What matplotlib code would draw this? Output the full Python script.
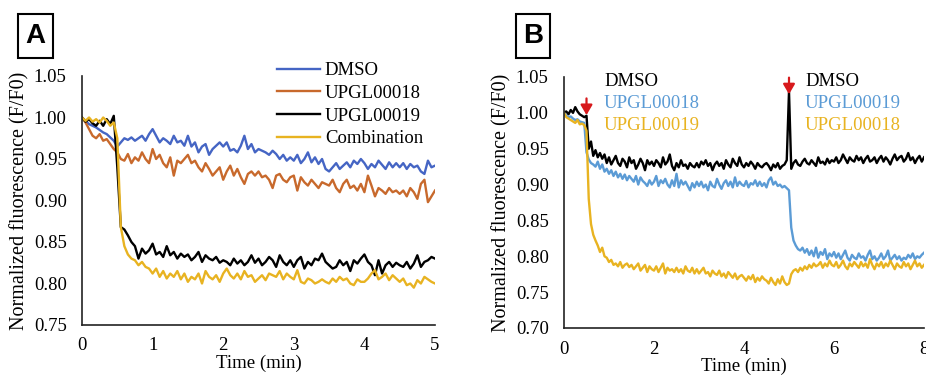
import matplotlib
matplotlib.use("Agg")
import matplotlib.pyplot as plt
from matplotlib.patches import Rectangle
import numpy as np

plt.rcParams['font.family'] = ['Liberation Serif', 'DejaVu Serif']

# ---- Panel A data (normalized fluorescence x1000, one value every 0.05 min) ----
time_a = np.round(np.arange(0, 5.001, 0.05), 2)

dmso_a = [1000, 996, 992, 990, 988, 985, 982, 980, 976, 972,
          965, 970, 975, 973, 976, 972, 975, 978, 972, 980,
          986, 978, 970, 975, 972, 968, 978, 970, 972, 966,
          978, 965, 970, 958, 965, 968, 955, 962, 966, 970,
          965, 970, 960, 962, 958, 966, 978, 962, 968, 958,
          962, 960, 958, 955, 960, 956, 950, 955, 948, 952,
          948, 955, 945, 950, 958, 946, 952, 944, 950, 938,
          935, 940, 945, 938, 942, 946, 940, 948, 944, 950,
          945, 938, 944, 940, 948, 943, 938, 946, 940, 945,
          940, 945, 938, 944, 940, 942, 935, 932, 948, 940,
          942]

upgl18_a = [1000, 994, 986, 978, 975, 980, 972, 974, 968, 962,
            958, 950, 948, 956, 945, 952, 948, 958, 950, 945,
            962, 950, 955, 945, 940, 952, 930, 948, 945, 950,
            955, 945, 948, 940, 935, 945, 938, 930, 935, 940,
            925, 935, 942, 930, 938, 928, 920, 932, 935, 930,
            935, 928, 930, 925, 915, 930, 932, 925, 922, 928,
            930, 912, 928, 922, 918, 925, 920, 915, 922, 920,
            918, 925, 915, 910, 920, 925, 915, 918, 912, 920,
            910, 930, 918, 905, 915, 912, 908, 915, 910, 912,
            908, 912, 905, 915, 910, 902, 920, 925, 898, 905,
            912]

upgl19_a = [1000, 995, 998, 993, 990, 996, 990, 998, 992, 1002,
            940, 868, 865, 858, 850, 845, 830, 842, 836, 840,
            848, 835, 838, 832, 845, 834, 838, 830, 836, 832,
            835, 828, 832, 838, 826, 834, 830, 828, 832, 825,
            828, 826, 822, 830, 824, 828, 822, 826, 834, 825,
            830, 822, 826, 832, 828, 820, 834, 826, 822, 828,
            820, 828, 832, 818, 826, 822, 830, 828, 836, 826,
            822, 818, 820, 828, 822, 826, 815, 828, 824, 830,
            835, 826, 822, 810, 828, 812, 822, 826, 820, 825,
            822, 820, 826, 818, 824, 834, 820, 826, 828, 832,
            830]

combo_a = [1000, 996, 1000, 995, 998, 994, 1000, 996, 990, 994,
           975, 868, 845, 835, 830, 828, 822, 826, 820, 818,
           812, 818, 808, 815, 806, 812, 808, 815, 805, 812,
           802, 808, 805, 812, 800, 815, 808, 805, 810, 802,
           812, 818, 810, 806, 812, 805, 815, 808, 810, 802,
           806, 810, 804, 812, 810, 808, 815, 805, 812, 808,
           805, 816, 802, 800, 806, 804, 800, 802, 805, 802,
           800, 806, 802, 808, 804, 806, 800, 798, 805, 802,
           802, 806, 812, 816, 805, 808, 812, 804, 810, 806,
           802, 806, 798, 800, 795, 804, 800, 808, 805, 802,
           800]

labels_a = ['DMSO', 'UPGL00018', 'UPGL00019', 'Combination']
colors_a = ['#4565c4', '#c8692c', '#000000', '#e8b321']

# ---- Panel B data (x1000, every 0.05 min) ----
time_b = np.round(np.arange(0, 8.001, 0.05), 2)

dmso_b = [1000, 1002, 998, 1004, 1000, 1008, 1002, 998, 996, 994,
          996, 950, 960, 940, 948, 938, 944, 936, 942, 930,
          938, 928, 934, 940, 930, 926, 936, 932, 924, 938,
          930, 934, 922, 928, 936, 930, 920, 934, 928, 932,
          926, 934, 930, 924, 938, 928, 932, 942, 926, 920,
          930, 924, 934, 926, 928, 922, 930, 926, 924, 930,
          924, 932, 928, 934, 926, 930, 920, 928, 932, 926,
          930, 922, 934, 928, 924, 936, 930, 926, 938, 928,
          924, 930, 926, 932, 928, 922, 930, 926, 924, 928,
          930, 926, 920, 928, 924, 930, 922, 926, 928, 934,
          1030, 922, 930, 934, 928, 926, 932, 936, 930, 928,
          934, 930, 926, 938, 930, 932, 928, 936, 930, 934,
          932, 938, 930, 934, 942, 936, 930, 938, 934, 932,
          940, 934, 938, 930, 936, 940, 932, 934, 938, 930,
          936, 940, 932, 938, 934, 928, 936, 942, 934, 938,
          940, 932, 936, 944, 934, 938, 930, 936, 940, 932,
          938]

blue_b = [1000, 996, 994, 995, 992, 990, 991, 988, 987, 986,
          945, 935, 930, 928, 925, 932, 922, 928, 918, 922,
          915, 920, 912, 918, 910, 915, 908, 914, 906, 912,
          908, 904, 912, 900, 910, 905, 902, 898, 906, 900,
          904, 912, 898, 906, 902, 908, 900, 896, 906, 898,
          915, 896, 906, 900, 904, 898, 892, 902, 896, 904,
          898, 904, 896, 900, 892, 904, 898, 896, 908, 900,
          894, 902, 906, 898, 904, 896, 910, 898, 904, 900,
          898, 905, 896, 902, 900, 906, 898, 904, 898, 902,
          896, 906, 910, 900, 904, 898, 900, 896, 898, 895,
          892, 840, 822, 815, 810, 808, 812, 805, 810, 802,
          808, 800, 812, 798, 806, 802, 810, 796, 804, 800,
          806, 798, 804, 796, 802, 808, 798, 794, 802, 798,
          796, 804, 798, 800, 794, 802, 808, 796, 800, 794,
          798, 804, 796, 800, 808, 794, 798, 802, 796, 800,
          794, 798, 796, 802, 798, 804, 796, 800, 798, 802,
          805]

yellow_b = [1000, 994, 992, 990, 988, 986, 990, 984, 985, 983,
            975, 880, 845, 830, 822, 815, 806, 812, 800, 798,
            792, 795, 788, 790, 786, 792, 784, 788, 790, 785,
            788, 782, 786, 790, 780, 784, 788, 778, 786, 782,
            780, 786, 778, 784, 790, 776, 784, 780, 782, 778,
            784, 778, 782, 776, 786, 780, 778, 784, 776, 782,
            776, 780, 784, 776, 778, 772, 780, 776, 774, 780,
            772, 776, 770, 778, 774, 770, 776, 768, 772, 774,
            770, 766, 772, 768, 774, 764, 770, 766, 772, 768,
            766, 762, 770, 764, 760, 768, 762, 772, 764, 760,
            762, 775, 780, 782, 778, 784, 780, 786, 782, 788,
            784, 790, 786, 788, 792, 784, 790, 786, 794, 788,
            786, 792, 784, 788, 794, 786, 782, 790, 786, 792,
            788, 784, 792, 786, 790, 784, 796, 788, 782, 790,
            786, 792, 784, 790, 786, 794, 788, 782, 790, 786,
            784, 792, 786, 790, 782, 788, 794, 786, 790, 784,
            788]

colors_b = ['#000000', '#5b9bd5', '#e8b321']
text_first = ['DMSO', 'UPGL00018', 'UPGL00019']
text_second = ['DMSO', 'UPGL00019', 'UPGL00018']
arrow_times = [0.5, 5.0]

FS = 13.5

fig = plt.figure(figsize=(9.26, 3.79), dpi=100)


def style_axes(ax):
    for side in ['top', 'right']:
        ax.spines[side].set_visible(False)
    for side in ['left', 'bottom']:
        ax.spines[side].set_linewidth(1.2)
        ax.spines[side].set_color('#222222')
    ax.tick_params(length=0, labelsize=FS)
    ax.tick_params(axis='y', pad=11)
    ax.tick_params(axis='x', pad=9)
    ax.set_xlabel('Time (min)', fontsize=FS, labelpad=0)
    ax.set_ylabel('Normalized fluorescence (F/F0)', fontsize=14.5, labelpad=3)


def panel_box(letter, x0, y0, w, h):
    # box with a bold letter, in pixel units of the figure
    W, H = 926, 379
    fig.add_artist(Rectangle((x0 / W, 1 - (y0 + h) / H), w / W, h / H,
                             transform=fig.transFigure, fill=False,
                             lw=1.5, ec='black'))
    fig.text((x0 + w / 2) / W, 1 - (y0 + h / 2) / H, letter,
             family='Liberation Sans', weight='bold', fontsize=20,
             ha='center', va='center')


# Panel A
ax_a = fig.add_axes([82 / 926, 1 - 325 / 379, 353 / 926, 249 / 379])
for vals, lab, col in zip([dmso_a, upgl18_a, upgl19_a, combo_a], labels_a, colors_a):
    ax_a.plot(time_a, np.array(vals) / 1000, color=col, lw=1.7, label=lab)
ax_a.set_xlim(0, 5)
ax_a.set_ylim(0.75, 1.05)
ax_a.set_xticks(range(0, 6))
ax_a.set_yticks(np.arange(0.75, 1.051, 0.05))
ax_a.yaxis.set_major_formatter(plt.FormatStrFormatter('%.2f'))
style_axes(ax_a)
ax_a.legend(loc='upper left', bbox_to_anchor=(277 / 926, 1 - 62 / 379),
            bbox_transform=fig.transFigure, frameon=False, fontsize=FS,
            handlelength=2.3, handletextpad=0.25, labelspacing=0.3,
            borderaxespad=0, borderpad=0)
panel_box('A', 18, 14, 35, 44)

# Panel B
ax_b = fig.add_axes([564 / 926, 1 - 328 / 379, 360 / 926, 251 / 379])
for vals, col in zip([dmso_b, blue_b, yellow_b], colors_b):
    ax_b.plot(time_b, np.array(vals) / 1000, color=col, lw=1.7)
ax_b.set_xlim(0, 8)
ax_b.set_ylim(0.70, 1.05)
ax_b.set_xticks(range(0, 9, 2))
ax_b.set_yticks(np.arange(0.70, 1.051, 0.05))
ax_b.yaxis.set_major_formatter(plt.FormatStrFormatter('%.2f'))
style_axes(ax_b)

for i, col in enumerate(colors_b):
    fig.text(604 / 926, 1 - (81 + 22 * i) / 379, text_first[i], color=col,
             fontsize=FS, va='center', ha='left')
    fig.text(805 / 926, 1 - (81 + 22 * i) / 379, text_second[i], color=col,
             fontsize=FS, va='center', ha='left')

for t, tip, tail in zip(arrow_times, [0.993, 1.022], [1.024, 1.053]):
    ax_b.annotate('', xy=(t, tip), xytext=(t, tail),
                  arrowprops=dict(arrowstyle='-|>,head_width=0.35,head_length=0.6',
                                  color='#d7191c', lw=1.6),
                  annotation_clip=False)

panel_box('B', 516, 14, 34, 44)

fig.savefig('out.png', dpi=100)
